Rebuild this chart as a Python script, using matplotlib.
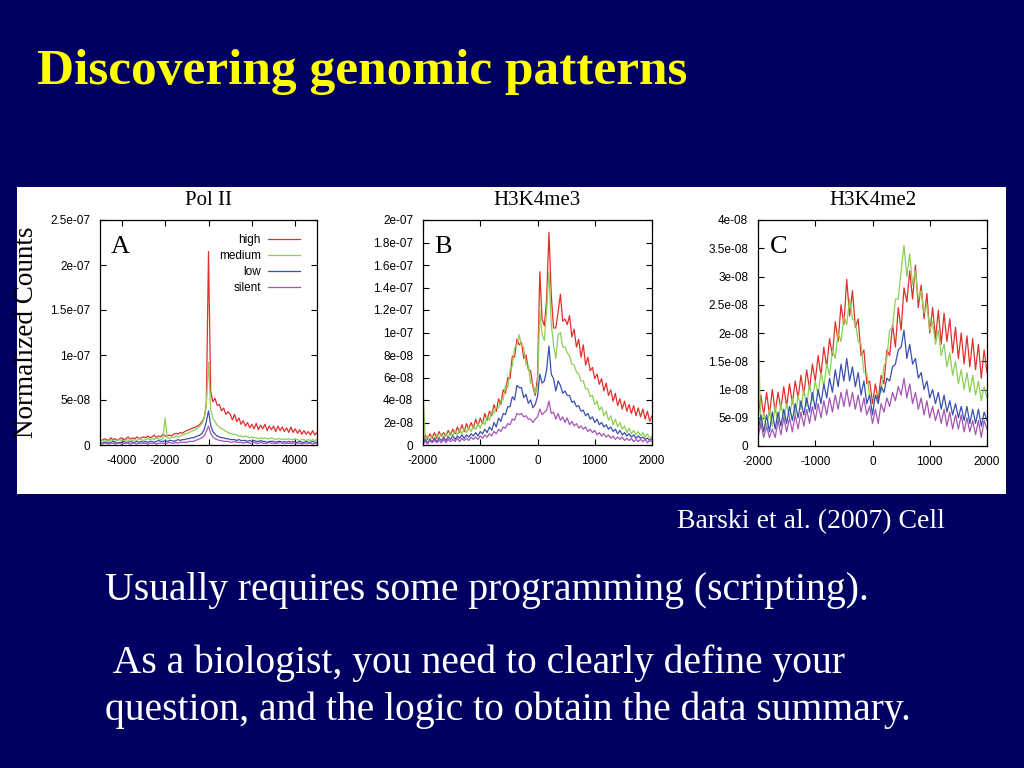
import numpy as np
import matplotlib
matplotlib.use("Agg")
import matplotlib.pyplot as plt
from matplotlib.patches import Rectangle

# ---- data ----
series_names = ["high", "medium", "low", "silent"]
series_colors = ["#e0302c", "#8ccf55", "#3a50b0", "#a555b5"]

# panel A: Pol II, x = -5000..5000 step 100, values in 1e-8
pol2_x = np.arange(-5000, 5001, 100)
pol2_high = [0.6, 0.5, 0.7, 0.6, 0.5, 0.8, 0.6, 0.7, 0.5, 0.7, 0.8, 0.6, 0.7, 0.9, 0.6, 0.8, 0.7, 0.9, 0.7, 0.8, 0.9,
             0.8, 1.0, 0.8, 0.9, 1.1, 0.8, 1.0, 0.9, 1.2, 1.0,
             1.0, 1.1, 1.0, 1.2, 1.3, 1.2, 1.4, 1.3, 1.5, 1.6,
             1.7, 1.8, 1.9, 2.0, 2.1, 2.3, 2.6, 3.0, 4.5,
             21.5,
             6.0, 4.8, 5.2, 4.4, 4.5, 3.8, 4.1, 3.4, 3.7,
             3.4, 2.8, 3.4, 2.6, 3.0, 2.3, 2.7, 2.1, 2.5, 1.9,
             2.3, 1.8, 2.4, 1.7, 2.2, 1.8, 2.3, 1.6, 2.1, 1.7,
             2.1, 1.5, 2.1, 1.6, 2.0, 1.5, 1.9, 1.4, 2.0, 1.4, 1.8,
             1.3, 1.7, 1.2, 1.6, 1.2, 1.5, 1.1, 1.6, 1.1, 1.4]
pol2_medium = [0.4, 0.5, 0.4, 0.5, 0.4, 0.6, 0.5, 0.4, 0.5, 0.6, 0.5, 0.4, 0.6, 0.5, 0.6, 0.5, 0.6, 0.5, 0.7, 0.6, 0.5,
               0.6, 0.7, 0.6, 0.7, 0.6, 0.8, 0.7, 0.6, 0.7, 3.0,
               0.8, 0.7, 0.9, 0.8, 1.0, 0.9, 1.0, 1.1, 1.2, 1.3,
               1.4, 1.5, 1.6, 1.7, 1.9, 2.1, 2.4, 3.0, 4.5,
               9.2,
               4.0, 3.0, 2.6, 2.2, 2.0, 1.8, 1.7, 1.5, 1.4,
               1.3, 1.2, 1.2, 1.1, 1.0, 1.0, 0.9, 1.0, 0.9, 0.8,
               0.9, 0.8, 0.8, 0.7, 0.8, 0.7, 0.8, 0.7, 0.7, 0.8,
               0.7, 0.6, 0.7, 0.7, 0.6, 0.7, 0.6, 0.7, 0.6, 0.6, 0.7,
               0.6, 0.5, 0.6, 0.6, 0.5, 0.6, 0.5, 0.6, 0.5, 0.6]
pol2_low = [0.3, 0.2, 0.3, 0.3, 0.2, 0.3, 0.4, 0.3, 0.2, 0.3, 0.3, 0.4, 0.3, 0.3, 0.4, 0.3, 0.3, 0.4, 0.3, 0.4, 0.3,
            0.4, 0.3, 0.4, 0.4, 0.3, 0.4, 0.5, 0.4, 0.4, 0.5,
            0.4, 0.5, 0.5, 0.4, 0.5, 0.6, 0.5, 0.6, 0.6, 0.7,
            0.7, 0.8, 0.8, 0.9, 1.0, 1.1, 1.3, 1.7, 2.6,
            3.8,
            2.2, 1.5, 1.2, 1.0, 0.9, 0.8, 0.8, 0.7, 0.7,
            0.6, 0.6, 0.6, 0.5, 0.6, 0.5, 0.5, 0.5, 0.4, 0.5,
            0.4, 0.5, 0.4, 0.4, 0.5, 0.4, 0.4, 0.3, 0.4, 0.4,
            0.4, 0.3, 0.4, 0.4, 0.3, 0.4, 0.3, 0.4, 0.3, 0.4, 0.3,
            0.3, 0.4, 0.3, 0.3, 0.4, 0.3, 0.3, 0.4, 0.3, 0.3]
pol2_silent = [0.2, 0.1, 0.2, 0.2, 0.1, 0.2, 0.2, 0.1, 0.2, 0.2, 0.1, 0.2, 0.2, 0.2, 0.1, 0.2, 0.2, 0.1, 0.2, 0.2, 0.2,
               0.2, 0.1, 0.2, 0.2, 0.2, 0.1, 0.2, 0.2, 0.2, 0.2,
               0.2, 0.3, 0.2, 0.2, 0.3, 0.2, 0.3, 0.3, 0.3, 0.3,
               0.4, 0.4, 0.4, 0.5, 0.6, 0.7, 0.8, 1.0, 1.5,
               2.1,
               1.3, 0.9, 0.7, 0.6, 0.5, 0.5, 0.4, 0.4, 0.4,
               0.3, 0.3, 0.4, 0.3, 0.3, 0.3, 0.2, 0.3, 0.3, 0.2,
               0.2, 0.3, 0.2, 0.2, 0.3, 0.2, 0.2, 0.2, 0.3, 0.2,
               0.2, 0.2, 0.2, 0.3, 0.2, 0.2, 0.2, 0.2, 0.2, 0.2, 0.2,
               0.2, 0.2, 0.1, 0.2, 0.2, 0.2, 0.2, 0.1, 0.2, 0.2]

# panel B: H3K4me3, x = -2000..2000 step 40, values in 1e-8
me3_x = np.arange(-2000, 2001, 40)
me3_high = [0.3, 0.9, 0.5, 1.0, 0.6, 1.1, 0.6, 1.2, 0.8, 1.1,
            0.8, 1.3, 0.9, 1.4, 1.0, 1.6, 1.1, 1.8, 1.2, 1.9,
            1.4, 2.0, 1.5, 2.3, 1.7, 2.4, 1.9, 2.8, 2.2, 3.0,
            2.6, 3.6, 3.0, 4.1, 3.6, 4.9, 4.6, 6.0, 5.9, 7.9,
            7.8, 9.4, 8.9, 9.1, 7.7, 8.0, 6.7, 6.6, 5.2, 4.4,
            6.0, 15.4, 11.2, 10.6, 13.0, 18.9, 13.4, 10.4, 10.4, 11.8,
            13.4, 11.0, 11.2, 10.7, 11.5, 9.6, 10.3, 8.7, 9.4, 7.8,
            8.9, 7.1, 7.8, 6.6, 6.9, 5.9, 6.3, 5.4, 5.9, 4.8,
            5.5, 4.4, 4.9, 3.9, 4.6, 3.5, 4.1, 3.2, 3.9, 3.0,
            3.6, 2.8, 3.5, 2.6, 3.3, 2.5, 3.2, 2.3, 3.0, 2.1,
            2.6]
me3_medium = [4.8, 0.4, 0.8, 0.4, 0.9, 0.5, 0.9, 0.6, 1.0, 0.7,
              1.0, 0.7, 1.1, 0.8, 1.3, 0.9, 1.4, 1.0, 1.5, 1.1,
              1.6, 1.2, 1.7, 1.4, 1.9, 1.5, 2.1, 1.8, 2.6, 2.2,
              3.0, 2.8, 3.4, 3.3, 4.0, 4.0, 5.3, 5.1, 6.7, 7.0,
              8.6, 8.9, 9.8, 8.8, 8.7, 7.1, 7.1, 5.5, 5.5, 4.6,
              5.3, 12.0, 9.8, 9.3, 12.0, 15.4, 10.8, 8.9, 7.7, 9.8,
              10.0, 8.7, 8.7, 8.2, 7.9, 7.2, 7.1, 6.5, 6.3, 5.7,
              5.7, 5.0, 5.0, 4.3, 4.4, 3.6, 3.9, 3.1, 3.4, 2.6,
              3.0, 2.2, 2.6, 1.8, 2.3, 1.6, 2.0, 1.4, 1.7, 1.1,
              1.5, 1.0, 1.3, 0.9, 1.2, 0.8, 1.1, 0.7, 1.0, 0.6,
              0.8]
me3_low = [0.2, 0.5, 0.2, 0.5, 0.3, 0.6, 0.3, 0.6, 0.4, 0.7,
           0.4, 0.7, 0.5, 0.8, 0.5, 0.8, 0.6, 0.9, 0.6, 0.9,
           0.7, 1.0, 0.8, 1.1, 0.8, 1.2, 1.0, 1.4, 1.1, 1.6,
           1.3, 2.0, 1.6, 2.4, 2.1, 2.8, 2.7, 3.4, 3.4, 4.3,
           4.0, 5.3, 5.1, 5.1, 4.2, 4.5, 3.7, 4.0, 3.3, 3.6,
           4.3, 6.3, 5.5, 5.7, 6.7, 8.8, 6.3, 5.9, 4.8, 5.7,
           5.3, 4.6, 4.8, 4.4, 4.4, 3.8, 3.9, 3.4, 3.5, 3.0,
           3.1, 2.6, 2.8, 2.3, 2.5, 2.0, 2.3, 1.8, 2.0, 1.6,
           1.8, 1.4, 1.6, 1.2, 1.4, 1.0, 1.3, 0.9, 1.1, 0.8,
           1.0, 0.7, 0.9, 0.6, 0.8, 0.6, 0.7, 0.5, 0.6, 0.4,
           0.6]
me3_silent = [0.1, 0.3, 0.1, 0.4, 0.2, 0.4, 0.2, 0.4, 0.2, 0.5,
              0.2, 0.5, 0.3, 0.5, 0.3, 0.6, 0.3, 0.6, 0.4, 0.6,
              0.4, 0.7, 0.5, 0.7, 0.5, 0.8, 0.6, 0.9, 0.7, 1.0,
              0.8, 1.2, 1.0, 1.4, 1.2, 1.6, 1.5, 1.9, 1.8, 2.3,
              2.2, 2.8, 2.7, 2.8, 2.5, 2.6, 2.3, 2.3, 2.0, 2.3,
              2.5, 3.2, 2.7, 2.9, 3.1, 3.9, 2.8, 2.9, 2.3, 2.8,
              2.2, 2.5, 2.0, 2.4, 1.8, 2.1, 1.7, 1.9, 1.5, 1.7,
              1.4, 1.6, 1.2, 1.4, 1.1, 1.3, 0.9, 1.1, 0.8, 1.0,
              0.7, 0.9, 0.6, 0.8, 0.5, 0.7, 0.5, 0.7, 0.4, 0.6,
              0.4, 0.6, 0.3, 0.5, 0.3, 0.5, 0.3, 0.5, 0.2, 0.4,
              0.3]

# panel C: H3K4me2, x = -2000..2000 step 50, values in 1e-9
me2_x = np.arange(-2000, 2001, 50)
me2_high = [5, 9, 5.5, 9.5, 5.5, 10, 6, 9.5, 6.5, 10.5,
            7, 11, 7.5, 11.5, 8.5, 12.5, 9, 13.5, 10, 14.5,
            11.5, 16, 12.5, 17.5, 14, 19, 16, 22, 18.5, 25,
            21.5, 29.5, 23, 27.5, 21, 22.5, 16, 17, 11, 11.5,
            7.5, 11, 8, 12.5, 11, 17, 16, 21.5, 17.5, 24.5,
            20.5, 28, 25.5, 31, 26, 32, 24.5, 28.5, 22.5, 27,
            20, 24.5, 19, 24, 18, 23.5, 18.5, 22.5, 16.5, 21,
            15.5, 20, 14.5, 19.5, 14, 19, 13.5, 18, 12, 17,
            13]
me2_medium = [22, 3, 6, 3, 6.5, 3.5, 7, 4, 7.5, 4.5,
              7.5, 5, 8.5, 5.5, 9, 6.5, 10, 7, 11, 8,
              11.5, 9, 13, 10.5, 14.5, 12.5, 17, 15.5, 20, 18.5,
              23, 21.5, 26, 22.5, 22, 18.5, 18, 13, 13, 8.5,
              8.5, 8.5, 9.5, 9.5, 14, 15.5, 20.5, 21, 26, 26,
              31, 35.5, 30, 34, 28.5, 31, 26, 27.5, 23.5, 25,
              20.5, 22, 18, 20.5, 16, 18, 14, 16.5, 12.5, 15,
              11, 13.5, 10, 13, 9.5, 12.5, 9, 11.5, 8, 10.5,
              8.5]
me2_low = [2.5, 5.5, 2.5, 5.5, 2.5, 6, 3, 6, 3.5, 6.5,
           4, 7, 4.5, 7.5, 5, 8, 5.5, 8.5, 6, 9.5,
           6.5, 10, 7.5, 11, 8.5, 12, 9.5, 13.5, 10.5, 14.5,
           11.5, 15.5, 11.5, 14, 10.5, 13, 9, 11.5, 7.5, 9,
           5.5, 9, 7.5, 10.5, 9.5, 12, 11.5, 14, 14.5, 17,
           17.5, 20.5, 15.5, 18, 14.5, 15.5, 12, 13, 10, 11.5,
           8.5, 10, 7.5, 9.5, 6.5, 9, 6, 8, 5.5, 7.5,
           5, 7, 4.5, 7, 4, 6.5, 4, 6.5, 3.5, 6,
           4.5]
me2_silent = [1.5, 4, 1.5, 3.5, 1.5, 3, 1.5, 4.5, 2, 5,
              2.5, 5, 2.5, 5.5, 3, 6, 3.5, 6.5, 4, 7,
              4.5, 7.5, 5, 8, 5.5, 8.5, 6, 9, 6.5, 9.5,
              7, 10, 7, 9.5, 6.5, 9, 6, 8.5, 5.5, 7,
              4, 6.5, 4, 7.5, 6, 8.5, 7, 9.5, 8, 10.5,
              9, 12, 8.5, 11, 7.5, 9.5, 6.5, 8.5, 5.5, 8,
              5, 7, 4.5, 6.5, 4, 6.5, 3.5, 6, 3, 5.5,
              3, 5.5, 2.5, 5, 2.5, 4.5, 2, 4.5, 1.5, 4.5,
              3]

# tick labels
pol2_xticks = [-4000, -2000, 0, 2000, 4000]
pol2_yticks = [0, 5, 10, 15, 20, 25]
pol2_ylabels = ["0", "5e-08", "1e-07", "1.5e-07", "2e-07", "2.5e-07"]
me3_xticks = [-2000, -1000, 0, 1000, 2000]
me3_yticks = [0, 2, 4, 6, 8, 10, 12, 14, 16, 18, 20]
me3_ylabels = ["0", "2e-08", "4e-08", "6e-08", "8e-08", "1e-07", "1.2e-07", "1.4e-07", "1.6e-07", "1.8e-07", "2e-07"]
me2_xticks = [-2000, -1000, 0, 1000, 2000]
me2_yticks = [0, 5, 10, 15, 20, 25, 30, 35, 40]
me2_ylabels = ["0", "5e-09", "1e-08", "1.5e-08", "2e-08", "2.5e-08", "3e-08", "3.5e-08", "4e-08"]

SERIF = "Liberation Serif"
SANS = "Liberation Sans"
BG = "#000062"

fig = plt.figure(figsize=(10.24, 7.68), dpi=100, facecolor=BG)

# white picture area (behind the axes)
fig.patches.append(Rectangle((17 / 1024, 1 - 494 / 768), 989 / 1024, 307 / 768,
                             transform=fig.transFigure, facecolor="white", edgecolor="none", zorder=-5))


def panel(rect, x, ys, xlim, ylim, xticks, yticks, ylabels, title, letter):
    ax = fig.add_axes(rect)
    ax.set_facecolor("white")
    for y, c, n in zip(ys, series_colors, series_names):
        ax.plot(x, y, color=c, lw=0.9, label=n)
    ax.set_xlim(*xlim)
    ax.set_ylim(*ylim)
    ax.set_xticks(xticks)
    ax.set_xticklabels([str(t) for t in xticks], fontfamily=SANS, fontsize=8.5)
    ax.set_yticks(yticks)
    ax.set_yticklabels(ylabels, fontfamily=SANS, fontsize=8.5)
    ax.tick_params(direction="in", top=True, right=True, length=4, width=0.8)
    ax.tick_params(axis="x", pad=7)
    ax.tick_params(axis="y", pad=7)
    for s in ax.spines.values():
        s.set_linewidth(0.9)
    ax.text(0.5, 1.085, title, transform=ax.transAxes, ha="center", va="center",
            fontfamily=SERIF, fontsize=15)
    ax.text(0.05, 0.93, letter, transform=ax.transAxes, ha="left", va="top",
            fontfamily=SERIF, fontsize=19)
    return ax


axA = panel([100 / 1024, 1 - 445 / 768, 217 / 1024, 225 / 768], pol2_x,
            [pol2_high, pol2_medium, pol2_low, pol2_silent], (-5000, 5000), (0, 25),
            pol2_xticks, pol2_yticks, pol2_ylabels, "Pol II", "A")
axA.legend(loc="upper right", bbox_to_anchor=(0.97, 0.985), markerfirst=False, frameon=False,
           prop={"family": SANS, "size": 8.5}, handlelength=2.7, labelspacing=0.33, handletextpad=0.6)
axA.set_ylabel("Normalized Counts", fontfamily=SERIF, fontsize=19.5)
axA.yaxis.set_label_coords(-0.28, 0.5)

panel([423 / 1024, 1 - 445 / 768, 229 / 1024, 225 / 768], me3_x,
      [me3_high, me3_medium, me3_low, me3_silent], (-2000, 2000), (0, 20),
      me3_xticks, me3_yticks, me3_ylabels, "H3K4me3", "B")

panel([758 / 1024, 1 - 446 / 768, 229 / 1024, 226 / 768], me2_x,
      [me2_high, me2_medium, me2_low, me2_silent], (-2000, 2000), (0, 40),
      me2_xticks, me2_yticks, me2_ylabels, "H3K4me2", "C")

# slide texts
fig.text(37 / 1024, 1 - 84 / 768, "Discovering genomic patterns", color="#ffff00",
         fontfamily=SERIF, fontweight="bold", fontsize=37, va="baseline", ha="left")
fig.text(945 / 1024, 1 - 528 / 768, "Barski et al. (2007) Cell", color="white",
         fontfamily=SERIF, fontsize=20, va="baseline", ha="right")
fig.text(105 / 1024, 1 - 600 / 768, "Usually requires some programming (scripting).", color="white",
         fontfamily=SERIF, fontsize=28.5, va="baseline", ha="left")
fig.text(105 / 1024, 1 - 673 / 768, " As a biologist, you need to clearly define your", color="white",
         fontfamily=SERIF, fontsize=28.5, va="baseline", ha="left")
fig.text(105 / 1024, 1 - 720 / 768, "question, and the logic to obtain the data summary.", color="white",
         fontfamily=SERIF, fontsize=28.5, va="baseline", ha="left")

fig.savefig("out.png", dpi=100, facecolor=BG)
